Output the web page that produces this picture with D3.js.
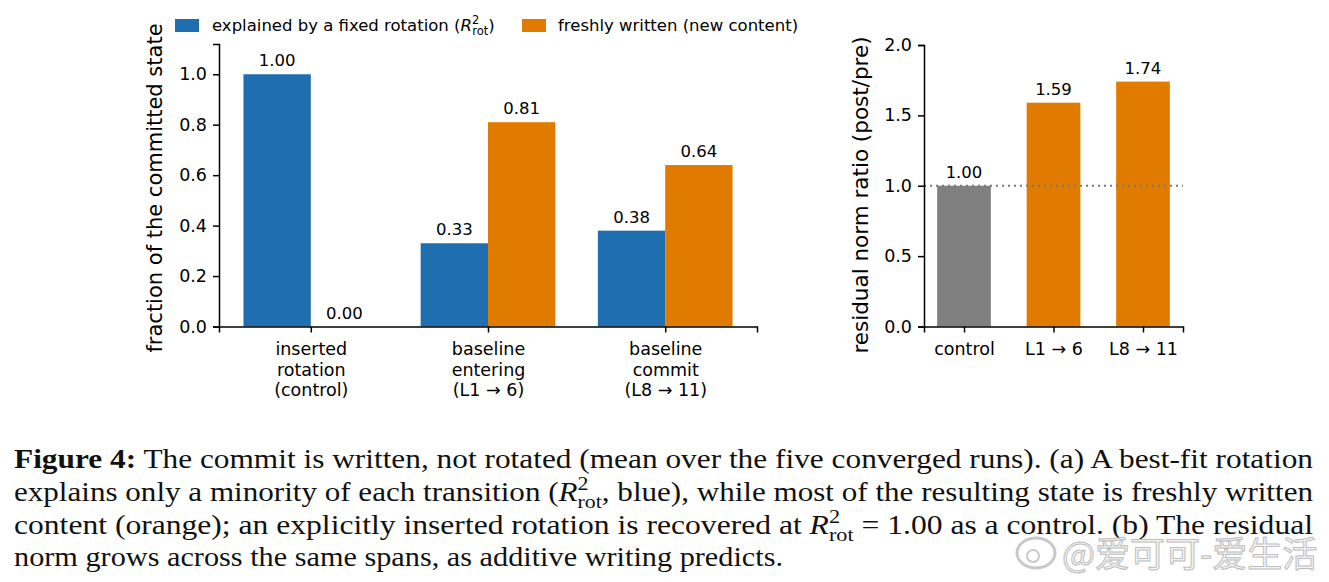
<meta charset="UTF-8">
<script src="https://d3js.org/d3.v7.min.js"></script>
<style>
  body { margin: 0; background: #fff; }
  text { font-family: "DejaVu Sans", sans-serif; }
  .cap { font-family: "Liberation Serif", serif; font-size: 27px; fill: #111; }
</style>
<div id="fig"></div>
<script>
// panel (a): share of the committed state
var groups   = [["inserted", "rotation", "(control)"],
                ["baseline", "entering", "(L1 → 6)"],
                ["baseline", "commit", "(L8 → 11)"]];
var rotFrac  = [1.00, 0.33, 0.38];
var newFrac  = [0.00, 0.81, 0.64];
var fracTicks = [0.0, 0.2, 0.4, 0.6, 0.8, 1.0];

// panel (b): residual norm ratio
var ratioCats  = ["control", "L1 → 6", "L8 → 11"];
var ratioVals  = [1.00, 1.59, 1.74];
var ratioTicks = [0.0, 0.5, 1.0, 1.5, 2.0];

var blue = "#1f6eb0", orange = "#e07b00", grey = "#808080";

var svg = d3.select("#fig").append("svg")
    .attr("width", 1329).attr("height", 582);
svg.append("rect").attr("width", 1329).attr("height", 582).attr("fill", "#fff");

function styleAxis(g) {
  g.selectAll("path.domain").attr("stroke", "#000").attr("stroke-width", 1.5);
  g.selectAll(".tick line").attr("stroke", "#000").attr("stroke-width", 1.5);
  g.selectAll(".tick text").attr("fill", "#000")
      .style("font-family", "DejaVu Sans").style("font-size", "17.5px");
}

// ---------- panel (a) ----------
var xa = d3.scaleLinear().domain([-0.518, 2.518]).range([219, 757]);
var ya = d3.scaleLinear().domain([0, 1.12]).range([326.5, 44]);
var bw = 0.38;

var ga = svg.append("g");
ga.append("g").selectAll("rect").data(rotFrac).enter().append("rect")
    .attr("x", function(d, i) { return xa(i - bw); })
    .attr("width", xa(bw) - xa(0))
    .attr("y", function(d) { return ya(d); })
    .attr("height", function(d) { return ya(0) - ya(d); })
    .attr("fill", blue);
ga.append("g").selectAll("rect").data(newFrac).enter().append("rect")
    .attr("x", function(d, i) { return xa(i); })
    .attr("width", xa(bw) - xa(0))
    .attr("y", function(d) { return ya(d); })
    .attr("height", function(d) { return ya(0) - ya(d); })
    .attr("fill", orange);

// value labels
ga.append("g").selectAll("text").data(rotFrac).enter().append("text")
    .attr("x", function(d, i) { return xa(i - bw / 2); })
    .attr("y", function(d) { return ya(d) - 8; })
    .attr("text-anchor", "middle").style("font-size", "16.5px")
    .text(function(d) { return d.toFixed(2); });
ga.append("g").selectAll("text").data(newFrac).enter().append("text")
    .attr("x", function(d, i) { return xa(i + bw / 2); })
    .attr("y", function(d) { return ya(d) - 8; })
    .attr("text-anchor", "middle").style("font-size", "16.5px")
    .text(function(d) { return d.toFixed(2); });

var yAxA = ga.append("g").attr("transform", "translate(219,0)")
    .call(d3.axisLeft(ya).tickValues(fracTicks).tickFormat(d3.format(".1f")).tickSizeOuter(0).tickSize(6).tickPadding(6));
styleAxis(yAxA);
var xAxA = ga.append("g").attr("transform", "translate(0,326.5)")
    .call(d3.axisBottom(xa).tickValues([0, 1, 2]).tickFormat("").tickSizeOuter(0).tickSize(6));
styleAxis(xAxA);
xAxA.selectAll(".tick").each(function(d) {
  var t = d3.select(this).append("text").attr("fill", "#000")
      .attr("text-anchor", "middle").style("font-size", "17.5px");
  groups[d].forEach(function(line, k) {
    t.append("tspan").attr("x", 0).attr("y", 28.5 + k * 20.5).text(line);
  });
});

ga.append("text")
    .attr("transform", "translate(162,188) rotate(-90)")
    .attr("text-anchor", "middle").style("font-size", "21px")
    .text("fraction of the committed state");

// legend
var legend = [{c: blue, x: 175}, {c: orange, x: 522}];
ga.append("g").selectAll("rect").data(legend).enter().append("rect")
    .attr("x", function(d) { return d.x; }).attr("y", 19)
    .attr("width", 24).attr("height", 13).attr("fill", function(d) { return d.c; });
var l1 = ga.append("text").attr("x", 212).attr("y", 31).style("font-size", "16.5px");
l1.append("tspan").text("explained by a fixed rotation (");
l1.append("tspan").style("font-style", "italic").text("R");
l1.append("tspan").attr("dy", -7).style("font-size", "11.5px").text("2");
l1.append("tspan").attr("dx", -7).attr("dy", 11).style("font-size", "11.5px").text("rot");
l1.append("tspan").attr("dy", -4).text(")");
ga.append("text").attr("x", 558).attr("y", 31).style("font-size", "16.5px")
    .text("freshly written (new content)");

// ---------- panel (b) ----------
var xb = d3.scaleLinear().domain([-0.447, 2.447]).range([924, 1183]);
var yb = d3.scaleLinear().domain([0, 2.0]).range([326.5, 45]);
var bw2 = 0.6;

var gb = svg.append("g");
gb.append("g").selectAll("rect").data(ratioVals).enter().append("rect")
    .attr("x", function(d, i) { return xb(i - bw2 / 2); })
    .attr("width", xb(bw2) - xb(0))
    .attr("y", function(d) { return yb(d); })
    .attr("height", function(d) { return yb(0) - yb(d); })
    .attr("fill", function(d, i) { return i === 0 ? grey : orange; });
gb.append("g").selectAll("text").data(ratioVals).enter().append("text")
    .attr("x", function(d, i) { return xb(i); })
    .attr("y", function(d) { return yb(d) - 8; })
    .attr("text-anchor", "middle").style("font-size", "16.5px")
    .text(function(d) { return d.toFixed(2); });

gb.append("line")
    .attr("x1", xb(-0.447)).attr("x2", xb(2.447))
    .attr("y1", yb(1.0)).attr("y2", yb(1.0))
    .attr("stroke", "#777").attr("stroke-width", 2).attr("stroke-dasharray", "2,4");

var yAxB = gb.append("g").attr("transform", "translate(924,0)")
    .call(d3.axisLeft(yb).tickValues(ratioTicks).tickFormat(d3.format(".1f")).tickSizeOuter(0).tickSize(6).tickPadding(6));
styleAxis(yAxB);
var xAxB = gb.append("g").attr("transform", "translate(0,326.5)")
    .call(d3.axisBottom(xb).tickValues([0, 1, 2]).tickFormat(function(d) { return ratioCats[d]; })
      .tickSizeOuter(0).tickSize(6));
styleAxis(xAxB);
xAxB.selectAll(".tick text").attr("y", 28.5).attr("dy", null);

gb.append("text")
    .attr("transform", "translate(868,195) rotate(-90)")
    .attr("text-anchor", "middle").style("font-size", "21.5px")
    .text("residual norm ratio (post/pre)");

// ---------- caption ----------
var cap = svg.append("g");
// R^2_rot, returns the dy needed to get back onto the baseline
function rot(t) {
  t.append("tspan").style("font-style", "italic").text("R");
  t.append("tspan").attr("dy", -11).style("font-size", "19px").text("2");
  t.append("tspan").attr("dx", -9.5).attr("dy", 18).style("font-size", "19px").text("rot");
  return -7;
}
function capLine(y, len) {
  var t = cap.append("text").attr("class", "cap").attr("x", 14).attr("y", y);
  if (len) t.attr("textLength", len).attr("lengthAdjust", "spacingAndGlyphs");
  return t;
}
var c1 = capLine(468, 1299);
c1.append("tspan").style("font-weight", "bold").text("Figure 4:");
c1.append("tspan").text(" The commit is written, not rotated (mean over the five converged runs). (a) A best-fit rotation");

var c2 = capLine(501, 1299);
c2.append("tspan").text("explains only a minority of each transition (");
var back2 = rot(c2);
c2.append("tspan").attr("dy", back2).text(", blue), while most of the resulting state is freshly written");

var c3 = capLine(534, 1299);
c3.append("tspan").text("content (orange); an explicitly inserted rotation is recovered at ");
var back3 = rot(c3);
c3.append("tspan").attr("dy", back3).text(" = 1.00 as a control. (b) The residual");

capLine(566, 769).text("norm grows across the same spans, as additive writing predicts.");

// watermark
var wm = svg.append("g");
wm.append("ellipse").attr("cx", 1036).attr("cy", 553).attr("rx", 19).attr("ry", 15)
    .attr("fill", "none").attr("stroke", "#c8c8c8").attr("stroke-width", 3);
wm.append("circle").attr("cx", 1033).attr("cy", 556).attr("r", 6)
    .attr("fill", "none").attr("stroke", "#c8c8c8").attr("stroke-width", 2);
wm.append("text").attr("x", 1062).attr("y", 567)
    .style("font-family", "Noto Sans CJK SC").style("font-size", "35px")
    .attr("fill", "#f4f4f4").attr("stroke", "#bdbdbd").attr("stroke-width", 1)
    .text("@爱可可-爱生活");
</script>
